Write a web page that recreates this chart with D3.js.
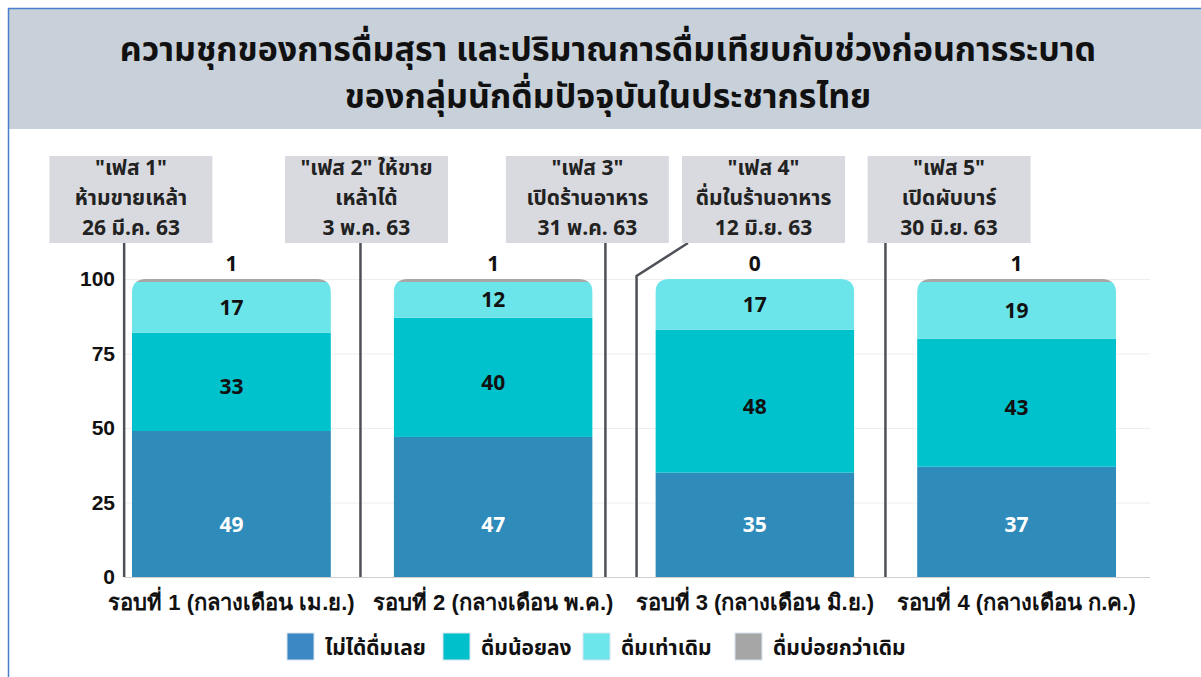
<!DOCTYPE html>
<html>
<head>
<meta charset="utf-8">
<script src="https://cdn.jsdelivr.net/npm/d3@7"></script>
<style>
  body { margin: 0; background: #fff; }
  svg { display: block; font-family: "Noto Sans Thai", "Noto Sans Thai UI", "Noto Sans", sans-serif; }
</style>
</head>
<body>
<svg width="1201" height="677"></svg>
<script>
// data
var rounds = ["รอบที่ 1 (กลางเดือน เม.ย.)", "รอบที่ 2 (กลางเดือน พ.ค.)", "รอบที่ 3 (กลางเดือน มิ.ย.)", "รอบที่ 4 (กลางเดือน ก.ค.)"];
var keys = ["ไม่ได้ดื่มเลย", "ดื่มน้อยลง", "ดื่มเท่าเดิม", "ดื่มบ่อยกว่าเดิม"];
var notDrink = [49, 47, 35, 37];
var drinkLess = [33, 40, 48, 43];
var drinkSame = [17, 12, 17, 19];
var drinkMore = [1, 1, 0, 1];
var yTicks = [0, 25, 50, 75, 100];
var phases = [
  ['"เฟส 1"', "ห้ามขายเหล้า", "26 มี.ค. 63"],
  ['"เฟส 2" ให้ขาย', "เหล้าได้", "3 พ.ค. 63"],
  ['"เฟส 3"', "เปิดร้านอาหาร", "31 พ.ค. 63"],
  ['"เฟส 4"', "ดื่มในร้านอาหาร", "12 มิ.ย. 63"],
  ['"เฟส 5"', "เปิดผับบาร์", "30 มิ.ย. 63"]
];
// where each phase falls between survey rounds (in round units, 0 = centre of round 1)
var phaseAt = [-0.41, 0.493, 1.429, 1.548, 2.499];
// box centres, same units
var boxAt = [-0.384, 0.516, 1.36, 2.033, 2.742];

var title = ["ความชุกของการดื่มสุรา และปริมาณการดื่มเทียบกับช่วงก่อนการระบาด", "ของกลุ่มนักดื่มปัจจุบันในประชากรไทย"];

var data = rounds.map(function(r, i) {
  var d = {round: r};
  d[keys[0]] = notDrink[i];
  d[keys[1]] = drinkLess[i];
  d[keys[2]] = drinkSame[i];
  d[keys[3]] = drinkMore[i];
  return d;
});

var svg = d3.select("svg");

// header band
svg.append("rect").attr("x", 8).attr("y", 8).attr("width", 1193).attr("height", 121).attr("fill", "#c8d0da");
svg.append("line").attr("x1", 8).attr("x2", 1201).attr("y1", 8.5).attr("y2", 8.5).attr("stroke", "#4a7fcf").attr("stroke-width", 1.5);
svg.append("line").attr("x1", 8.5).attr("x2", 8.5).attr("y1", 8).attr("y2", 677).attr("stroke", "#4a7fcf").attr("stroke-width", 1.5);

svg.append("g").selectAll("text")
  .data(title)
  .enter().append("text")
    .attr("x", 608)
    .attr("y", function(d, i) { return 61 + i * 47; })
    .attr("text-anchor", "middle")
    .attr("font-size", 34)
    .attr("font-weight", "bold")
    .attr("fill", "#111")
    .text(function(d) { return d; });

// scales
var x = d3.scaleBand()
    .domain(rounds)
    .range([100.6, 1147.4])
    .paddingInner(0.24)
    .paddingOuter(0.12);

var y = d3.scaleLinear()
    .domain([0, 100])
    .range([577, 279]);

var colors = d3.scaleOrdinal()
    .domain(keys)
    .range(["#2e8bba", "#00c2cc", "#6be5e9", "#a6a6a6"]);
var legendColors = ["#3b88c4", "#00c1cb", "#6ce6ea", "#a6a6a6"];

// timeline position in round units
var t = d3.scaleLinear()
    .domain([0, 1])
    .range([x(rounds[0]) + x.bandwidth() / 2, x(rounds[1]) + x.bandwidth() / 2]);

// gridlines
svg.append("g").selectAll("line")
  .data(yTicks)
  .enter().append("line")
    .attr("x1", 124).attr("x2", 1150)
    .attr("y1", function(d) { return y(d) + 0.5; })
    .attr("y2", function(d) { return y(d) + 0.5; })
    .attr("stroke", function(d) { return d === 0 ? "#d0d0d0" : "#eeeeee"; })
    .attr("stroke-width", 1);

// y axis
var yAxis = svg.append("g")
    .attr("transform", "translate(117,0)")
    .call(d3.axisLeft(y).tickValues(yTicks).tickSize(0).tickPadding(2));
yAxis.select(".domain").remove();
yAxis.selectAll("text")
    .attr("font-size", 21)
    .attr("font-weight", "bold")
    .attr("font-family", "inherit")
    .attr("fill", "#111");

// x axis
var xAxis = svg.append("g")
    .attr("transform", "translate(0,577)")
    .call(d3.axisBottom(x).tickSize(0).tickPadding(17));
xAxis.select(".domain").remove();
xAxis.selectAll("text")
    .attr("font-size", 22)
    .attr("font-weight", "bold")
    .attr("font-family", "inherit")
    .attr("fill", "#111");

// rounded top clip for each bar
var defs = svg.append("defs");
var r = 14;
rounds.forEach(function(rd, i) {
  var x0 = x(rd), x1 = x0 + x.bandwidth(), top = y(100), bot = y(0);
  defs.append("clipPath").attr("id", "clip" + i)
    .append("path")
    .attr("d", "M" + x0 + "," + bot + "V" + (top + r) + "Q" + x0 + "," + top + " " + (x0 + r) + "," + top +
               "H" + (x1 - r) + "Q" + x1 + "," + top + " " + x1 + "," + (top + r) + "V" + bot + "Z");
});

var stacked = d3.stack().keys(keys)(data);

var bars = svg.append("g").selectAll("g")
  .data(data)
  .enter().append("g")
    .attr("clip-path", function(d, i) { return "url(#clip" + i + ")"; });

bars.selectAll("rect")
  .data(function(d, i) { return stacked.map(function(s) { return {key: s.key, v: s[i]}; }); })
  .enter().append("rect")
    .attr("x", function(d) { return x(d.v.data.round); })
    .attr("width", x.bandwidth())
    .attr("y", function(d) { return y(d.v[1]); })
    .attr("height", function(d) { return y(d.v[0]) - y(d.v[1]); })
    .attr("fill", function(d) { return colors(d.key); });

// segment labels
var labels = [];
stacked.forEach(function(s, k) {
  s.forEach(function(v) {
    labels.push({k: k, v: v, val: v[1] - v[0]});
  });
});
svg.append("g").selectAll("text")
  .data(labels)
  .enter().append("text")
    .attr("x", function(d) { return x(d.v.data.round) + x.bandwidth() / 2; })
    .attr("y", function(d) {
      if (d.k === 3) return y(100) - 16;
      if (d.k === 0) return y(17.5);
      if (d.k === 1) return (y(d.v[0]) + y(d.v[1])) / 2 + 5;
      return (y(d.v[0]) + y(d.v[1])) / 2;
    })
    .attr("dy", "0.36em")
    .attr("text-anchor", "middle")
    .attr("font-size", 21)
    .attr("font-weight", "bold")
    .attr("fill", function(d) { return d.k === 0 ? "#fff" : "#111"; })
    .text(function(d) { return d.val; });

// phase annotation lines
var boxW = 163, boxTop = 156, boxBot = 243;
var lines = svg.append("g")
    .attr("fill", "none")
    .attr("stroke", "#4d5157")
    .attr("stroke-width", 2.5);
phaseAt.forEach(function(p, i) {
  var px = t(p);
  var bx = t(boxAt[i]);
  var pts;
  if (Math.abs(bx - px) < boxW / 2 - 4) {
    pts = [[px, boxBot], [px, y(0)]];
  } else {
    var sx = bx - boxW / 2 + 6;
    pts = [[sx, boxBot], [px, 276], [px, y(0)]];
  }
  lines.append("path").attr("d", d3.line()(pts));
});

// phase boxes
var boxes = svg.append("g").selectAll("g")
  .data(phases)
  .enter().append("g")
    .attr("transform", function(d, i) { return "translate(" + t(boxAt[i]) + ",0)"; });
boxes.append("rect")
    .attr("x", -boxW / 2)
    .attr("y", boxTop)
    .attr("width", boxW)
    .attr("height", boxBot - boxTop)
    .attr("fill", "#d9dadf");
boxes.selectAll("text")
  .data(function(d) { return d; })
  .enter().append("text")
    .attr("x", 0)
    .attr("y", function(d, j) { return 168 + j * 30; })
    .attr("dy", "0.35em")
    .attr("text-anchor", "middle")
    .attr("font-size", 21)
    .attr("font-weight", "bold")
    .attr("fill", "#222")
    .text(function(d) { return d; });

// legend
var legendX = [287, 443, 583, 735];
var legend = svg.append("g").selectAll("g")
  .data(keys)
  .enter().append("g")
    .attr("transform", function(d, i) { return "translate(" + legendX[i] + ",633)"; });
legend.append("rect")
    .attr("width", 27)
    .attr("height", 27)
    .attr("fill", function(d, i) { return legendColors[i]; })
    .attr("stroke", "#d8e4ee")
    .attr("stroke-width", 1);
legend.append("text")
    .attr("x", 38)
    .attr("y", 14)
    .attr("dy", "0.36em")
    .attr("font-size", 21)
    .attr("font-weight", "bold")
    .attr("fill", "#111")
    .text(function(d) { return d; });
</script>
</body>
</html>
